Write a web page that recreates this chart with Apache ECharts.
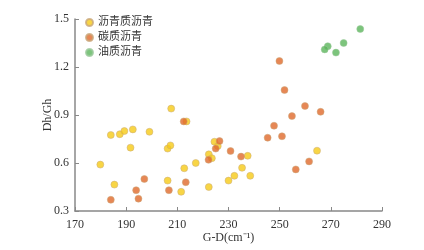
<!DOCTYPE html>
<html><head><meta charset="utf-8">
<script src="https://cdn.jsdelivr.net/npm/echarts@6/dist/echarts.min.js"></script>
<style>html,body{margin:0;padding:0;background:#fff}#c{width:424px;height:250px}</style>
</head><body><div id="c"></div>
<script>
const seriesNames = ['沥青质沥青', '碳质沥青', '油质沥青'];
const asphaltene = [
  [184.0,0.775],[187.5,0.78],[189.3,0.80],[192.6,0.81],[199.1,0.795],[191.7,0.696],
  [179.9,0.59],[185.4,0.465],[206.2,0.69],[207.3,0.71],[207.6,0.94],[213.6,0.86],
  [212.7,0.567],[217.2,0.60],[222.3,0.654],[223.5,0.63],[222.3,0.45],[206.2,0.49],
  [211.5,0.42],[224.5,0.733],[225.8,0.706],[237.5,0.645],[235.3,0.57],[232.3,0.52],
  [230.0,0.49],[238.5,0.52],[264.6,0.677]
];
const carbonaceous = [
  [212.5,0.86],[226.5,0.737],[225.0,0.69],[222.2,0.62],[230.8,0.675],[234.9,0.64],
  [245.3,0.758],[247.8,0.833],[250.9,0.767],[249.9,1.2375],[251.9,1.056],[259.9,0.956],
  [254.8,0.893],[266.0,0.92],[261.5,0.61],[256.3,0.56],[197.1,0.50],[193.9,0.43],
  [194.8,0.377],[184.0,0.37],[206.7,0.43],[213.3,0.48]
];
const oily = [
  [281.5,1.4375],[275.0,1.35],[268.8,1.33],[267.6,1.31],[272.0,1.29]
];
const xTicks = [170,190,210,230,250,270,290];
const yTicks = [0.3,0.6,0.9,1.2,1.5];
const colors = ['#F6CB17','#E0692A','#5BB55B'];
const font = '"Liberation Serif","Noto Sans CJK SC",serif';
const chart = echarts.init(document.getElementById('c'));
const axisLine = {lineStyle:{color:'#888',width:1.5}};
chart.setOption({
  animation:false,
  grid:{left:75,right:42,top:19,bottom:39},
  legend:{
    data:seriesNames, orient:'vertical', left:80, top:12, itemGap:4,
    itemWidth:7, itemHeight:7, icon:'circle',
    textStyle:{fontFamily:font,fontSize:11,color:'#333'}
  },
  xAxis:{
    type:'value', min:xTicks[0], max:xTicks[xTicks.length-1], interval:20,
    name:'G-D(cm⁻¹)', nameLocation:'middle', nameGap:21, nameMoveOverlap:false,
    nameTextStyle:{fontFamily:font,fontSize:12,color:'#333'},
    axisLine:axisLine, axisTick:{inside:true,length:4,lineStyle:{color:'#888'}},
    axisLabel:{fontFamily:font,fontSize:12,color:'#333',margin:8},
    splitLine:{show:false}
  },
  yAxis:{
    type:'value', min:yTicks[0], max:yTicks[yTicks.length-1], interval:0.3,
    name:'Dh/Gh', nameLocation:'middle', nameGap:21, nameMoveOverlap:false,
    nameTextStyle:{fontFamily:font,fontSize:12,color:'#333'},
    axisLine:Object.assign({show:true},axisLine),
    axisTick:{show:true,inside:true,length:4,lineStyle:{color:'#888'}},
    axisLabel:{fontFamily:font,fontSize:12,color:'#333',margin:6,formatter:v=>v.toFixed(1)},
    splitLine:{show:false}
  },
  series:[
    {name:seriesNames[0],type:'scatter',data:asphaltene,symbolSize:7,
     itemStyle:{color:colors[0],borderColor:'#c9a87a',borderWidth:0.6}},
    {name:seriesNames[1],type:'scatter',data:carbonaceous,symbolSize:7,
     itemStyle:{color:colors[1],borderColor:'#c9a87a',borderWidth:0.6}},
    {name:seriesNames[2],type:'scatter',data:oily,symbolSize:7,
     itemStyle:{color:colors[2],borderColor:'#9bc99b',borderWidth:0.6}}
  ]
});
</script></body></html>
